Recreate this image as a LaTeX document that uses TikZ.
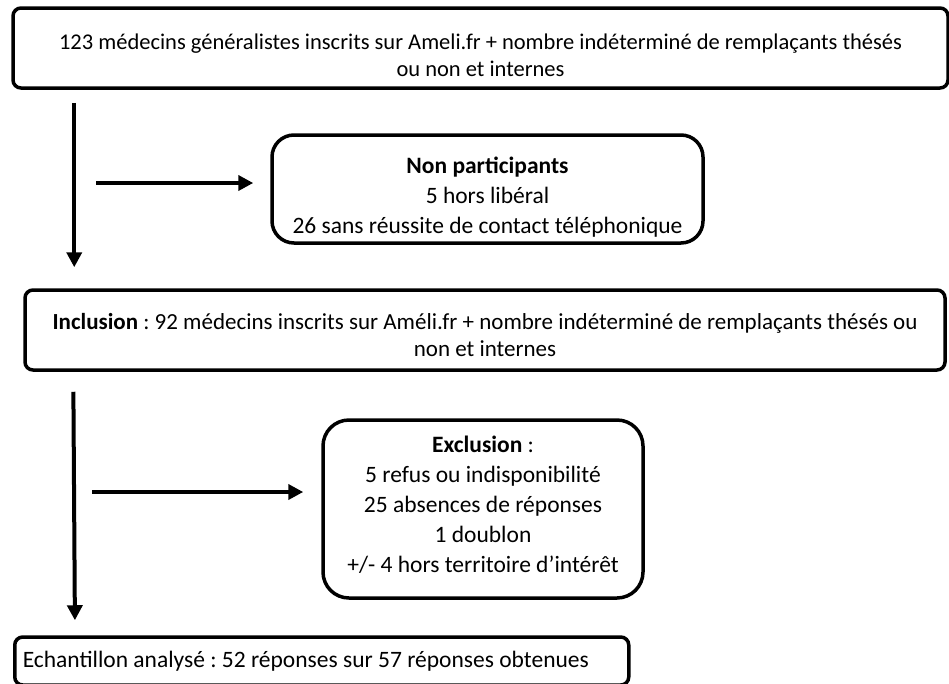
\documentclass[tikz,border=0pt]{standalone}
\usepackage{fontspec}
\setmainfont{Carlito}
\usetikzlibrary{arrows.meta}
\frenchspacing

\begin{document}
\begin{tikzpicture}[x=1pt,y=-1pt,
  wide box/.style={draw,line width=3.5pt,rounded corners=8pt,inner sep=0pt},
  side box/.style={draw,line width=3.5pt,rounded corners=22pt,inner sep=0pt},
  txt/.style={align=center,font=\fontsize{#1}{27}\selectfont},
  list/.style={align=center,font=\fontsize{23.5}{30}\selectfont},
  flow/.style={line width=4pt,-{Triangle[width=15pt,length=15pt]}}]

  \useasboundingbox (0,0) rectangle (949,683);

  \node[wide box,minimum width=935pt,minimum height=80pt,
    label={[txt=22.5,yshift=-7pt]center:{123 médecins généralistes inscrits sur Ameli.fr + nombre indéterminé de remplaçants thésés\\ ou non et internes}}]
    (start) at (480.5,48) {};
  \node[side box,minimum width=431pt,minimum height=108pt,
    label={[list,yshift=-8pt]center:{\textbf{Non participants}\\ 5 hors libéral\\ 26 sans réussite de contact téléphonique}}]
    (nonpart) at (487.5,189) {};
  \node[wide box,minimum width=920pt,minimum height=80pt,
    label={[txt=23,yshift=-5pt]center:{\textbf{Inclusion} : 92 médecins inscrits sur Améli.fr + nombre indéterminé de remplaçants thésés ou\\ non et internes}}]
    (incl) at (485,330) {};
  \node[side box,minimum width=320pt,minimum height=178pt,rounded corners=26pt,
    label={[list,yshift=4pt]center:{\textbf{Exclusion} :\\ 5 refus ou indisponibilité\\ 25 absences de réponses\\ 1 doublon\\ +/- 4 hors territoire d’intérêt}}]
    (excl) at (483,509) {};
  \node[wide box,anchor=west,minimum width=614pt,minimum height=48pt,inner xsep=8pt,
    text width=598pt,align=flush left,font=\fontsize{23.5}{27}\selectfont]
    (sample) at (13,661) {Echantillon analysé : 52 réponses sur 57 réponses obtenues};

  \coordinate (h1) at (96,183);
  \coordinate (h2) at (92,492);

  \draw[flow,shorten <=13pt,shorten >=21pt] ([xshift=63pt]start.south west) -- ([xshift=51pt]incl.north west);
  \draw[flow,shorten >=17pt] (h1) -- (h1 -| nonpart.west);
  \draw[flow,shorten <=20pt,shorten >=15pt] ([xshift=50pt]incl.south west) -- ([xshift=62pt]sample.north west);
  \draw[flow,shorten >=18pt] (h2) -- (h2 -| excl.west);
\end{tikzpicture}
\end{document}
